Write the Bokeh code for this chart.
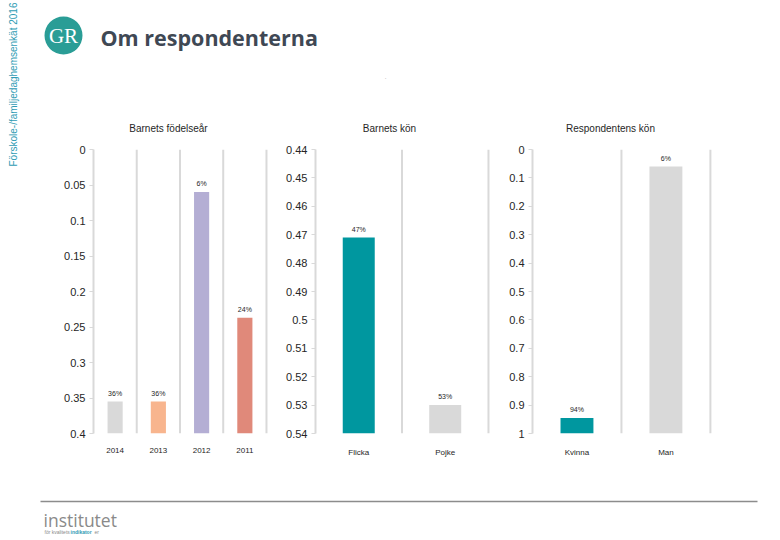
from bokeh.plotting import figure
from bokeh.models import Range1d, FixedTicker, Spacer
from bokeh.layouts import row, column
from bokeh.core.properties import value
from bokeh.embed import file_html
from bokeh.resources import INLINE

# ---------------- data ----------------
title_text = "Om respondenterna"
side_text = "Förskole-/familjedaghemsenkät 2016"

p1_title = "Barnets födelseår"
p1_cats = ["2014", "2013", "2012", "2011"]
p1_vals = [0.355, 0.355, 0.06, 0.237]
p1_labels = ["36%", "36%", "6%", "24%"]
p1_colors = ["#d9d9d9", "#f8b58e", "#b4aed4", "#e0897a"]
p1_ticks = [0, 0.05, 0.1, 0.15, 0.2, 0.25, 0.3, 0.35, 0.4]
p1_ticklabels = ["0", "0.05", "0.1", "0.15", "0.2", "0.25", "0.3", "0.35", "0.4"]

p2_title = "Barnets kön"
p2_cats = ["Flicka", "Pojke"]
p2_vals = [0.471, 0.53]
p2_labels = ["47%", "53%"]
p2_colors = ["#00979f", "#d9d9d9"]
p2_ticks = [0.44, 0.45, 0.46, 0.47, 0.48, 0.49, 0.5, 0.51, 0.52, 0.53, 0.54]
p2_ticklabels = ["0.44", "0.45", "0.46", "0.47", "0.48", "0.49", "0.5", "0.51", "0.52", "0.53", "0.54"]

p3_title = "Respondentens kön"
p3_cats = ["Kvinna", "Man"]
p3_vals = [0.945, 0.06]
p3_labels = ["94%", "6%"]
p3_colors = ["#00979f", "#d9d9d9"]
p3_ticks = [0, 0.1, 0.2, 0.3, 0.4, 0.5, 0.6, 0.7, 0.8, 0.9, 1]
p3_ticklabels = ["0", "0.1", "0.2", "0.3", "0.4", "0.5", "0.6", "0.7", "0.8", "0.9", "1"]

FONT = "Liberation Sans"
GRID = "#d9d9d9"


def base_fig(w, h, xr, yr, **kw):
    f = figure(width=w, height=h, x_range=xr, y_range=yr,
               output_backend="svg", toolbar_location=None, **kw)
    f.outline_line_color = None
    f.background_fill_color = "white"
    f.border_fill_color = "white"
    f.xgrid.visible = False
    f.ygrid.visible = False
    return f


# ---------------- left strip (vertical text) ----------------
strip = base_fig(38, 540, Range1d(0, 38), Range1d(540, 0),
                 min_border=0, x_axis_type=None, y_axis_type=None)
strip.text(x=[13], y=[166], text=[side_text], angle=1.5708,
           text_font=value(FONT), text_font_size="10px",
           text_color="#2f9cb4", text_baseline="middle", text_align="left")

# ---------------- header ----------------
header = base_fig(742, 140, Range1d(38, 780), Range1d(140, 0),
                  min_border=0, x_axis_type=None, y_axis_type=None)
header.scatter(x=[63], y=[35], size=38, marker="circle",
               fill_color="#2a9d96", line_color=None)
header.text(x=[63], y=[35], text=["GR"], text_font=value("Liberation Serif"),
            text_font_size="21px", text_color="white",
            text_align="center", text_baseline="middle")
header.text(x=[100], y=[37], text=[title_text], text_font=value("Open Sans"),
            text_font_size="21.5px", text_font_style="bold",
            text_color="#3f4854", text_align="left", text_baseline="middle")
header.text(x=[385], y=[76], text=["."], text_font=value(FONT),
            text_font_size="8px", text_color="#bfbfbf",
            text_align="center", text_baseline="middle")
header.text(x=[168, 389, 610], y=[128, 128, 128],
            text=[p1_title, p2_title, p3_title], text_font=value(FONT),
            text_font_size="10px", text_color="#262626",
            text_align="center", text_baseline="middle")


# ---------------- panels ----------------
def panel(cats, vals, labels, colors, ticks, ticklabels, border_left,
          frame_w, bar_w):
    n = len(cats)
    xmax = n + 0.035 * n / 2 if n == 2 else n + 0.07
    ymin, ymax = ticks[0], ticks[-1]
    f = base_fig(border_left + frame_w, 330, Range1d(0, xmax),
                 Range1d(ymax, ymin), min_border_left=border_left,
                 min_border_right=0, min_border_top=9, min_border_bottom=37)
    centers = [i + 0.5 for i in range(n)]
    seps = [i + 1 for i in range(n)]
    f.segment(x0=seps, x1=seps, y0=[ymin] * n, y1=[ymax] * n,
              line_color=GRID, line_width=2)
    f.vbar(x=centers, width=bar_w, bottom=[ymax] * n, top=vals,
           fill_color=colors, line_color=None)
    f.text(x=centers, y=vals, text=labels, y_offset=-5,
           text_font=value(FONT), text_font_size="7px", text_color="#262626",
           text_align="center", text_baseline="bottom")
    # y axis
    ya = f.yaxis[0]
    ya.ticker = FixedTicker(ticks=ticks)
    ya.major_label_overrides = {t: l for t, l in zip(ticks, ticklabels)}
    ya.axis_line_color = GRID
    ya.axis_line_width = 2
    ya.major_tick_line_color = GRID
    ya.major_tick_out = 4
    ya.major_tick_in = 0
    ya.minor_tick_line_color = None
    ya.major_label_text_font = FONT
    ya.major_label_text_font_size = "11px"
    ya.major_label_text_color = "#262626"
    ya.major_label_standoff = 4
    # x axis
    xa = f.xaxis[0]
    xa.ticker = FixedTicker(ticks=centers)
    xa.major_label_overrides = {c: cat for c, cat in zip(centers, cats)}
    xa.axis_line_color = None
    xa.major_tick_line_color = None
    xa.minor_tick_line_color = None
    xa.major_label_text_font = FONT
    xa.major_label_text_font_size = "8px"
    xa.major_label_text_color = "#262626"
    xa.major_label_standoff = 8
    return f


p1 = panel(p1_cats, p1_vals, p1_labels, p1_colors, p1_ticks, p1_ticklabels,
           55, 176, 0.35)
p2 = panel(p2_cats, p2_vals, p2_labels, p2_colors, p2_ticks, p2_ticklabels,
           46, 176, 0.37)
p3 = panel(p3_cats, p3_vals, p3_labels, p3_colors, p3_ticks, p3_ticklabels,
           41, 181, 0.37)

panels = row(p1, p2, p3, Spacer(width=67, height=330), spacing=0)

# ---------------- footer ----------------
footer = base_fig(742, 70, Range1d(38, 780), Range1d(540, 470),
                  min_border=0, x_axis_type=None, y_axis_type=None)
footer.segment(x0=[40], x1=[757], y0=[501], y1=[501],
               line_color="#8c8c8c", line_width=1.5)
footer.text(x=[43], y=[519], text=["institutet"], text_font=value("Open Sans"),
            text_font_size="17.5px", text_color="#8a8a8a",
            text_align="left", text_baseline="middle")
footer.text(x=[44, 70, 94], y=[531, 531, 531],
            text=["för kvalitets", "indikator", "er"],
            text_font=value(FONT), text_font_size="5px",
            text_color=["#8a8a8a", "#2f9cb4", "#8a8a8a"],
            text_font_style=["normal", "bold", "normal"],
            text_align="left", text_baseline="middle")

layout = row(strip, column(header, panels, footer, spacing=0), spacing=0)

with open("out.html", "w") as fh:
    fh.write(file_html(layout, INLINE))
